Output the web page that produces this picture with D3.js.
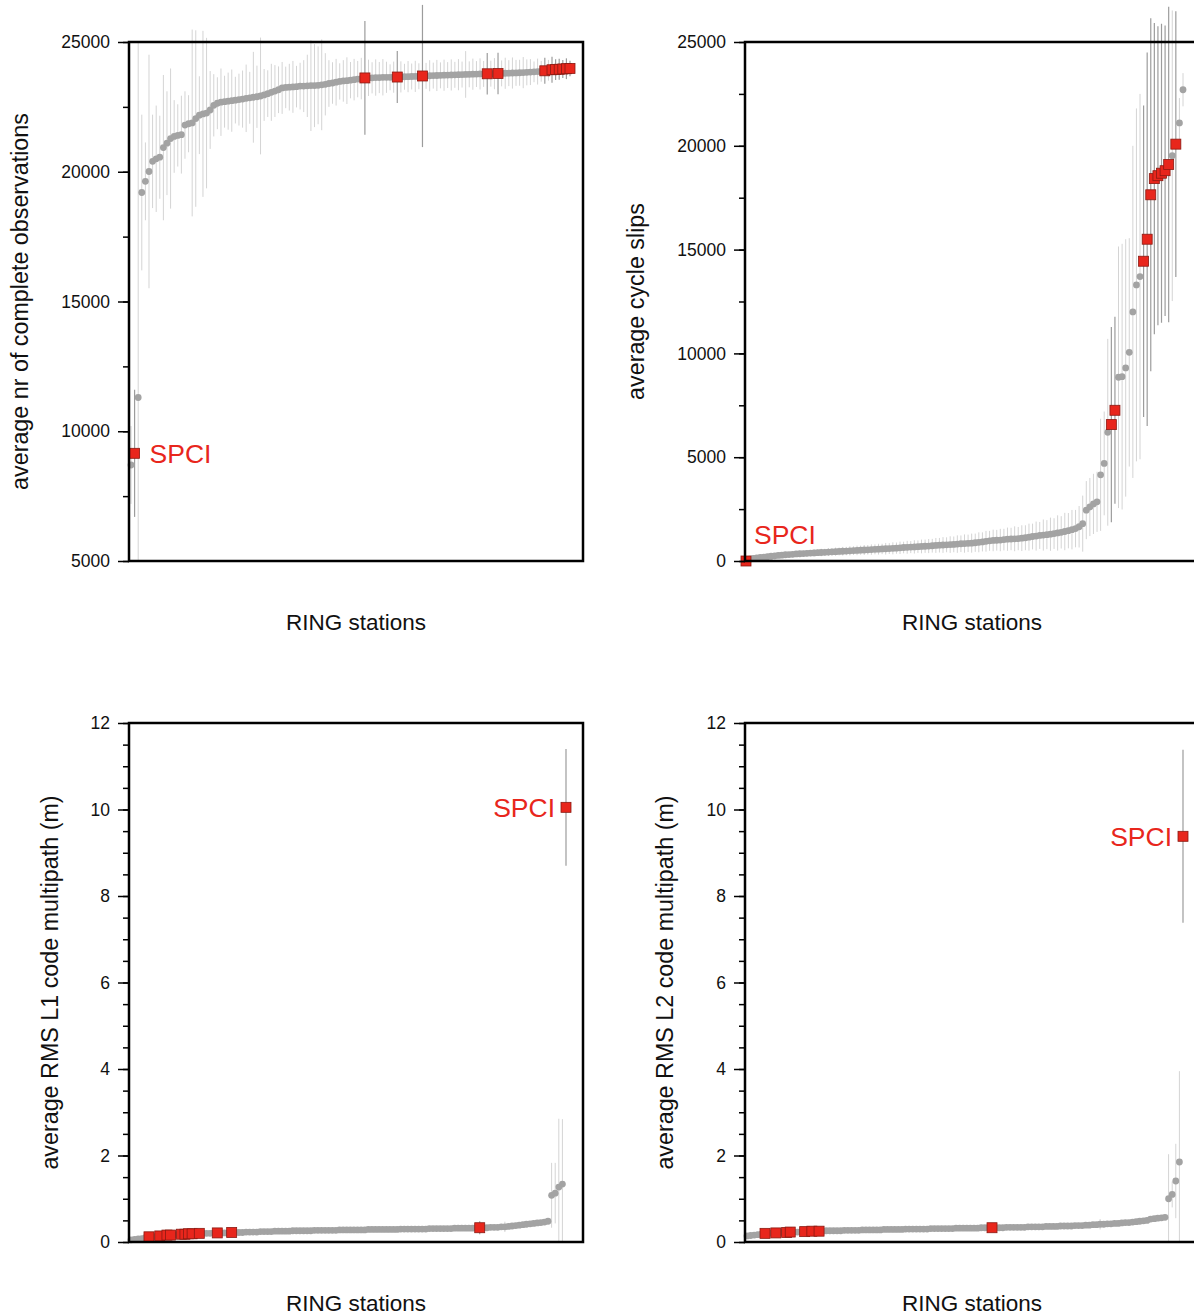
<!DOCTYPE html>
<html>
<head>
<meta charset="utf-8">
<script src="https://cdn.jsdelivr.net/npm/d3@7"></script>
<style>
  body { margin: 0; background: #fff; }
  svg text { font-family: "Liberation Sans", Arial, Helvetica, sans-serif; }
</style>
</head>
<body>
<div id="chart"></div>
<script>
// average nr of complete observations, stations sorted ascending
var obsMean = [8700, 9150, 11300, 19200, 19630, 20010, 20400, 20500, 20560, 20930,
  21100, 21280, 21360, 21400, 21430, 21800, 21850, 21880, 22050, 22180,
  22230, 22260, 22380, 22560, 22640, 22680, 22700, 22720, 22740, 22760,
  22780, 22800, 22830, 22850, 22870, 22890, 22920, 22960, 23010, 23060,
  23110, 23160, 23230, 23250, 23260, 23270, 23280, 23300, 23300, 23310,
  23320, 23320, 23330, 23350, 23370, 23400, 23420, 23450, 23480, 23500,
  23510, 23530, 23550, 23570, 23590, 23615, 23620, 23620, 23630, 23630,
  23640, 23640, 23640, 23645, 23650, 23655, 23660, 23665, 23670, 23675,
  23680, 23690, 23695, 23700, 23705, 23710, 23715, 23720, 23725, 23730,
  23735, 23740, 23745, 23750, 23755, 23760, 23765, 23770, 23770, 23775,
  23780, 23780, 23785, 23790, 23795, 23800, 23805, 23810, 23815, 23820,
  23830, 23840, 23850, 23860, 23870, 23890, 23910, 23930, 23940, 23950,
  23960, 23970, 23980];
var obsSd = [1500, 2450, 13700, 3000, 1500, 4500, 1800, 2050, 1600, 2800,
  2000, 2700, 1400, 1200, 1500, 1300, 1100, 3600, 3400, 1500,
  3200, 2900, 1500, 1200, 1000, 1300, 1000, 1100, 1200, 900,
  1000, 1100, 1300, 1000, 1750, 1200, 2250, 1000, 900, 1100,
  1000, 900, 1000, 800, 900, 1000, 800, 900, 1000, 1200,
  1750, 1600, 1500, 1750, 1200, 900, 800, 900, 700, 800,
  900, 700, 800, 700, 800, 2190, 700, 600, 700, 600,
  700, 600, 500, 600, 1000, 600, 500, 600, 500, 600,
  500, 2740, 500, 600, 500, 600, 500, 600, 500, 600,
  500, 600, 500, 900, 500, 600, 500, 600, 500, 800,
  500, 600, 800, 500, 600, 500, 600, 500, 500, 600,
  500, 500, 400, 500, 400, 500, 400, 500, 400, 400,
  350, 400, 300];
var obsMarked = [1, 65, 74, 81, 99, 102, 115, 117, 118, 119, 120, 121, 122];
var obsSpci = 1;
var obsTicks = [5000, 10000, 15000, 20000, 25000];

// average cycle slips
var slipMean = [0, 90, 120, 150, 170, 190, 210, 230, 250, 270,
  280, 300, 310, 320, 340, 350, 360, 370, 380, 390,
  400, 410, 420, 430, 440, 450, 460, 470, 480, 490,
  500, 510, 520, 530, 540, 550, 560, 570, 580, 590,
  600, 610, 620, 635, 650, 660, 670, 680, 690, 700,
  710, 720, 735, 750, 760, 770, 780, 790, 800, 815,
  830, 840, 850, 860, 880, 900, 920, 950, 970, 990,
  1000, 1010, 1030, 1050, 1060, 1070, 1080, 1100, 1120, 1150,
  1180, 1200, 1230, 1250, 1270, 1290, 1320, 1350, 1380, 1420,
  1460, 1510, 1560, 1650, 1800, 2450, 2600, 2750, 2850, 4150,
  4700, 6200, 6570, 7260, 8850, 8880, 9300, 10050, 12000, 13300,
  13700, 14440, 15500, 17640, 18420, 18560, 18680, 18800, 19100, 19520,
  20080, 21100, 22700];
var slipSd = [40, 60, 70, 90, 80, 100, 90, 110, 100, 120,
  110, 130, 120, 140, 130, 150, 140, 160, 150, 170,
  160, 180, 170, 190, 180, 200, 190, 210, 200, 220,
  210, 230, 220, 240, 230, 250, 240, 260, 250, 280,
  260, 290, 270, 300, 280, 310, 290, 320, 300, 330,
  320, 340, 330, 360, 350, 380, 360, 400, 380, 420,
  400, 440, 420, 460, 440, 480, 460, 500, 480, 520,
  500, 540, 520, 560, 540, 600, 560, 620, 600, 650,
  620, 700, 650, 750, 700, 800, 740, 850, 780, 900,
  850, 950, 900, 1000, 1350, 1400, 1400, 1450, 1450, 2700,
  2500, 4500, 4700, 4500, 6300, 6400, 6200, 5500, 8000, 8500,
  8800, 7500, 9000, 8500, 7500, 7200, 7200, 7000, 7600, 7000,
  6400, 1200, 800];
var slipMarked = [0, 102, 103, 111, 112, 113, 114, 115, 116, 117, 118, 120];
var slipSpci = 0;
var slipTicks = [0, 5000, 10000, 15000, 20000, 25000];

// average RMS L1 code multipath (m)
var l1Mean = [0.05, 0.06, 0.07, 0.08, 0.10, 0.12, 0.12, 0.13, 0.14, 0.15,
  0.16, 0.16, 0.17, 0.17, 0.18, 0.18, 0.19, 0.19, 0.19, 0.20,
  0.20, 0.20, 0.20, 0.21, 0.21, 0.21, 0.21, 0.21, 0.22, 0.22,
  0.22, 0.22, 0.23, 0.23, 0.23, 0.23, 0.24, 0.24, 0.24, 0.24,
  0.25, 0.25, 0.25, 0.25, 0.25, 0.26, 0.26, 0.26, 0.26, 0.26,
  0.26, 0.27, 0.27, 0.27, 0.27, 0.27, 0.27, 0.27, 0.28, 0.28,
  0.28, 0.28, 0.28, 0.28, 0.28, 0.28, 0.29, 0.29, 0.29, 0.29,
  0.29, 0.29, 0.29, 0.29, 0.29, 0.30, 0.30, 0.30, 0.30, 0.30,
  0.30, 0.30, 0.30, 0.31, 0.31, 0.31, 0.31, 0.31, 0.31, 0.31,
  0.32, 0.32, 0.32, 0.32, 0.32, 0.32, 0.33, 0.33, 0.33, 0.33,
  0.34, 0.34, 0.34, 0.35, 0.35, 0.36, 0.37, 0.38, 0.39, 0.40,
  0.41, 0.42, 0.43, 0.44, 0.45, 0.46, 0.48, 1.08, 1.13, 1.27,
  1.34, 10.05];
var l1Sd = [0.03, 0.03, 0.04, 0.03, 0.04, 0.03, 0.04, 0.03, 0.04, 0.03,
  0.04, 0.03, 0.04, 0.03, 0.04, 0.03, 0.04, 0.03, 0.04, 0.03,
  0.04, 0.03, 0.04, 0.03, 0.04, 0.03, 0.04, 0.03, 0.04, 0.03,
  0.04, 0.03, 0.04, 0.03, 0.04, 0.03, 0.04, 0.03, 0.04, 0.03,
  0.04, 0.03, 0.04, 0.03, 0.04, 0.03, 0.04, 0.03, 0.04, 0.03,
  0.04, 0.03, 0.04, 0.03, 0.04, 0.03, 0.04, 0.03, 0.04, 0.03,
  0.04, 0.03, 0.04, 0.03, 0.04, 0.03, 0.04, 0.03, 0.04, 0.03,
  0.04, 0.03, 0.04, 0.03, 0.04, 0.03, 0.04, 0.03, 0.04, 0.03,
  0.04, 0.03, 0.04, 0.03, 0.04, 0.03, 0.04, 0.03, 0.04, 0.03,
  0.04, 0.03, 0.04, 0.03, 0.04, 0.03, 0.04, 0.15, 0.04, 0.03,
  0.04, 0.03, 0.04, 0.03, 0.12, 0.03, 0.04, 0.03, 0.04, 0.03,
  0.04, 0.03, 0.04, 0.03, 0.04, 0.03, 0.04, 0.75, 0.7, 1.58,
  1.5, 1.35];
var l1Marked = [5, 8, 10, 11, 14, 15, 16, 17, 19, 24, 28, 97, 121];
var l1Spci = 121;

// average RMS L2 code multipath (m)
var l2Mean = [0.14, 0.15, 0.16, 0.17, 0.18, 0.20, 0.20, 0.21, 0.21, 0.22,
  0.22, 0.22, 0.23, 0.23, 0.23, 0.24, 0.24, 0.24, 0.25, 0.25,
  0.25, 0.25, 0.26, 0.26, 0.26, 0.26, 0.26, 0.27, 0.27, 0.27,
  0.27, 0.27, 0.28, 0.28, 0.28, 0.28, 0.28, 0.28, 0.29, 0.29,
  0.29, 0.29, 0.29, 0.29, 0.30, 0.30, 0.30, 0.30, 0.30, 0.30,
  0.30, 0.31, 0.31, 0.31, 0.31, 0.31, 0.31, 0.31, 0.32, 0.32,
  0.32, 0.32, 0.32, 0.32, 0.32, 0.33, 0.33, 0.33, 0.33, 0.33,
  0.33, 0.33, 0.34, 0.34, 0.34, 0.34, 0.34, 0.34, 0.35, 0.35,
  0.35, 0.35, 0.35, 0.36, 0.36, 0.36, 0.36, 0.37, 0.37, 0.37,
  0.37, 0.38, 0.38, 0.38, 0.39, 0.39, 0.40, 0.40, 0.41, 0.41,
  0.42, 0.42, 0.43, 0.43, 0.44, 0.45, 0.45, 0.46, 0.47, 0.48,
  0.49, 0.50, 0.53, 0.54, 0.55, 0.56, 0.57, 1.00, 1.10, 1.41,
  1.85, 9.38];
var l2Sd = [0.03, 0.03, 0.04, 0.03, 0.04, 0.03, 0.04, 0.03, 0.04, 0.03,
  0.04, 0.03, 0.04, 0.03, 0.04, 0.03, 0.04, 0.03, 0.04, 0.03,
  0.04, 0.03, 0.04, 0.03, 0.04, 0.03, 0.04, 0.03, 0.04, 0.03,
  0.04, 0.03, 0.04, 0.03, 0.04, 0.03, 0.04, 0.03, 0.04, 0.03,
  0.04, 0.03, 0.04, 0.03, 0.04, 0.03, 0.04, 0.03, 0.04, 0.03,
  0.04, 0.03, 0.04, 0.03, 0.04, 0.03, 0.04, 0.03, 0.04, 0.03,
  0.04, 0.03, 0.04, 0.03, 0.04, 0.03, 0.04, 0.03, 0.06, 0.03,
  0.04, 0.03, 0.04, 0.03, 0.04, 0.03, 0.04, 0.03, 0.04, 0.03,
  0.04, 0.03, 0.04, 0.03, 0.04, 0.03, 0.04, 0.03, 0.04, 0.03,
  0.04, 0.03, 0.04, 0.03, 0.04, 0.03, 0.04, 0.03, 0.12, 0.03,
  0.04, 0.03, 0.04, 0.03, 0.04, 0.03, 0.04, 0.03, 0.04, 0.03,
  0.04, 0.03, 0.04, 0.03, 0.04, 0.03, 0.04, 1.03, 0.3, 0.86,
  2.1, 2.0];
var l2Marked = [5, 8, 11, 12, 16, 18, 20, 68, 121];
var l2Spci = 121;
var rmsTicks = [0, 2, 4, 6, 8, 10, 12];

var width = 1194, height = 1315;
var panelW = 454, panelH = 519;
var red = "#e8261c", grey = "#a3a3a3";

var svg = d3.select("#chart")
    .append("svg")
    .attr("width", width)
    .attr("height", height);

var panels = [
    { mean: obsMean, sd: obsSd, marked: obsMarked, spci: obsSpci, ticks: obsTicks, minor: 2500,
      domain: [5000, 25000], left: 129, top: 42, xr: [2, 441],
      title: "average nr of complete observations", titleOff: 109,
      spciDx: 15, spciDy: 0, spciAnchor: "start" },
    { mean: slipMean, sd: slipSd, marked: slipMarked, spci: slipSpci, ticks: slipTicks, minor: 2500,
      domain: [0, 25000], left: 745, top: 42, xr: [1, 438],
      title: "average cycle slips", titleOff: 109,
      spciDx: 8, spciDy: -27, spciAnchor: "start" },
    { mean: l1Mean, sd: l1Sd, marked: l1Marked, spci: l1Spci, ticks: rmsTicks, minor: 0.5,
      domain: [0, 12], left: 129, top: 723, xr: [2, 437],
      title: "average RMS L1 code multipath (m)", titleOff: 79,
      spciDx: -11, spciDy: 0, spciAnchor: "end" },
    { mean: l2Mean, sd: l2Sd, marked: l2Marked, spci: l2Spci, ticks: rmsTicks, minor: 0.5,
      domain: [0, 12], left: 745, top: 723, xr: [2, 438],
      title: "average RMS L2 code multipath (m)", titleOff: 80,
      spciDx: -11, spciDy: 0, spciAnchor: "end" }
];

function drawPanel(p) {
    var g = svg.append("g")
        .attr("transform", "translate(" + p.left + "," + p.top + ")");

    var x = d3.scaleLinear().domain([0, p.mean.length - 1]).range(p.xr);
    var y = d3.scaleLinear().domain(p.domain).range([panelH, 0]);

    var rows = p.mean.map(function(v, i) {
        return { i: i, v: v, sd: p.sd[i], marked: p.marked.indexOf(i) >= 0 };
    });

    // error bars, lower end stops at the axis
    g.append("g").selectAll("line")
        .data(rows.filter(function(d) { return !d.marked; }).concat(rows.filter(function(d) { return d.marked; })))
        .enter()
        .append("line")
        .attr("x1", function(d) { return x(d.i); })
        .attr("x2", function(d) { return x(d.i); })
        .attr("y1", function(d) { return y(d.v + d.sd); })
        .attr("y2", function(d) { return y(Math.max(p.domain[0], d.v - d.sd)); })
        .style("stroke", function(d) { return d.marked ? "#9c9c9c" : "#d4d4d4"; })
        .style("stroke-width", function(d) { return d.marked ? 1.2 : 1; });

    g.append("g").selectAll("circle")
        .data(rows.filter(function(d) { return !d.marked; }))
        .enter()
        .append("circle")
        .attr("cx", function(d) { return x(d.i); })
        .attr("cy", function(d) { return y(d.v); })
        .attr("r", 3.4)
        .style("fill", grey);

    g.append("g").selectAll("rect")
        .data(rows.filter(function(d) { return d.marked; }))
        .enter()
        .append("rect")
        .attr("x", function(d) { return x(d.i) - 5; })
        .attr("y", function(d) { return y(d.v) - 5; })
        .attr("width", 10)
        .attr("height", 10)
        .style("fill", red)
        .style("stroke", "#8a1a12")
        .style("stroke-width", 0.8);

    // frame
    g.append("rect")
        .attr("width", panelW)
        .attr("height", panelH)
        .style("fill", "none")
        .style("stroke", "#000")
        .style("stroke-width", 2.5);

    var minorTicks = d3.range(p.domain[0], p.domain[1] + p.minor / 2, p.minor);
    var minorAxis = g.append("g")
        .call(d3.axisLeft(y).tickValues(minorTicks).tickSize(6).tickFormat(""));
    var majorAxis = g.append("g")
        .call(d3.axisLeft(y).tickValues(p.ticks).tickSize(11).tickPadding(8).tickFormat(d3.format("d")));
    [minorAxis, majorAxis].forEach(function(a) {
        a.select(".domain").remove();
        a.selectAll(".tick line").style("stroke", "#000").style("stroke-width", 1.5);
    });
    majorAxis.selectAll("text")
        .style("font-family", "'Liberation Sans', Arial, sans-serif")
        .style("font-size", "17.5px")
        .style("fill", "#111");

    // station name label
    var s = rows[p.spci];
    g.append("text")
        .attr("x", x(s.i) + p.spciDx)
        .attr("y", y(s.v) + p.spciDy)
        .attr("dy", "0.36em")
        .style("text-anchor", p.spciAnchor)
        .style("font-size", "26.5px")
        .style("fill", red)
        .text("SPCI");

    g.append("text")
        .attr("x", panelW / 2)
        .attr("y", panelH + 69)
        .style("text-anchor", "middle")
        .style("font-size", "22.5px")
        .style("fill", "#111")
        .text("RING stations");

    g.append("text")
        .attr("transform", "translate(" + (-p.titleOff) + "," + (panelH / 2) + ") rotate(-90)")
        .attr("dy", "0.36em")
        .style("text-anchor", "middle")
        .style("font-size", "23.3px")
        .style("fill", "#111")
        .text(p.title);
}

panels.forEach(drawPanel);
</script>
</body>
</html>
